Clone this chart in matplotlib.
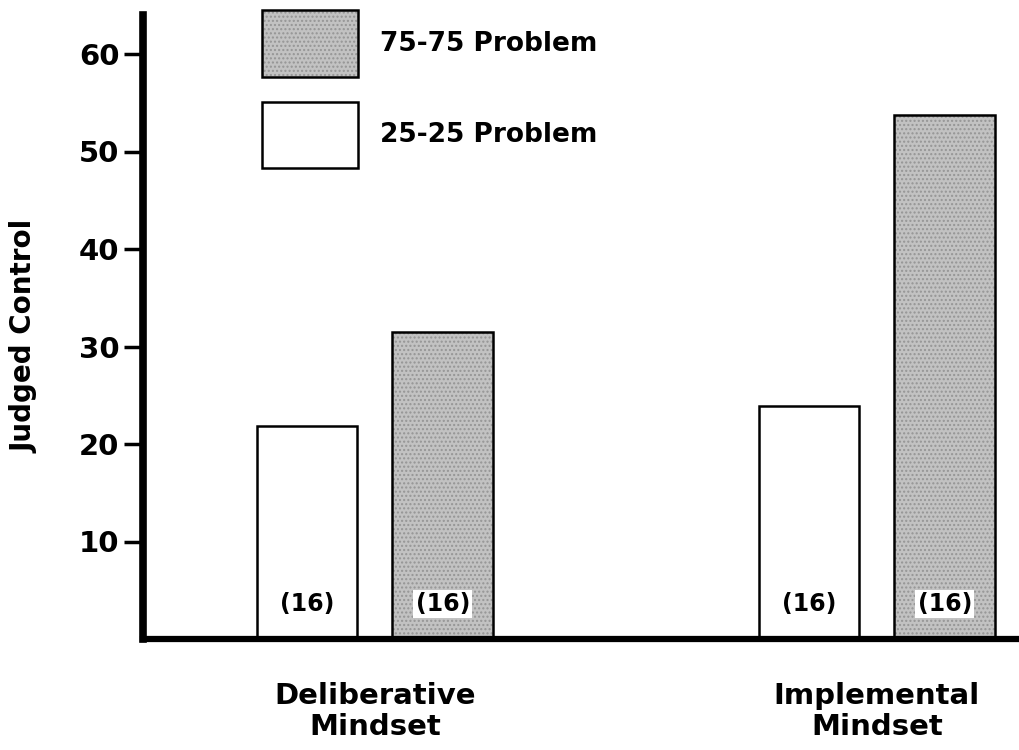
import matplotlib
matplotlib.use("Agg")
import matplotlib.pyplot as plt
from matplotlib.patches import Patch
from matplotlib.legend_handler import HandlerTuple
import numpy as np

# ---- data ----
categories = ["Deliberative\nMindset", "Implemental\nMindset"]
series_labels = ["75-75 Problem", "25-25 Problem"]
vals_25 = [21.8, 23.9]   # white bars
vals_75 = [31.5, 53.7]   # stippled bars
n_labels = ["(16)", "(16)"]
yticks = [10, 20, 30, 40, 50, 60]

plt.rcParams['font.family'] = ['DejaVu Sans']
plt.rcParams['font.weight'] = 'bold'

W, H = 1020, 750
fig = plt.figure(figsize=(W / 100, H / 100), dpi=100)
ax = fig.add_axes([143 / W, 1 - 639 / H, 1 - 143 / W, (639 - 15) / H])

x = np.arange(len(categories))
width = 0.2
off = 0.135
gray = '#c2c2c2'

# white bars
ax.bar(x - off, vals_25, width, facecolor='white', edgecolor='black', linewidth=1.8, zorder=2)
# stippled bars: fill + hatch layer, then outline
ax.bar(x + off, vals_75, width, facecolor=gray, edgecolor='#959595', hatch='....', linewidth=0, zorder=2)
ax.bar(x + off, vals_75, width, facecolor='none', edgecolor='black', linewidth=1.8, zorder=3)

for xi in x:
    ax.text(xi - off, 3.6, n_labels[xi], ha='center', va='center', fontsize=17, fontweight='bold', zorder=4)
    ax.text(xi + off, 3.6, n_labels[xi], ha='center', va='center', fontsize=17, fontweight='bold', zorder=4,
            bbox=dict(facecolor='white', edgecolor='none', pad=1.5))

ax.set_xlim(-0.462, 1.285)
ax.set_ylim(0, 624 / 9.75)

for s in ['top', 'right']:
    ax.spines[s].set_visible(False)
ax.spines['left'].set_linewidth(5.5)
ax.spines['bottom'].set_linewidth(4.5)

ax.set_yticks(yticks)
ax.set_yticklabels([str(t) for t in yticks])
ax.tick_params(axis='y', direction='out', length=14, width=2.5, pad=3, labelsize=21)
ax.set_xticks(x)
ax.set_xticklabels(categories, fontsize=21, fontweight='bold', linespacing=1.12)
ax.tick_params(axis='x', length=0, pad=31)

fig.text(25 / W, 1 - 336 / H, "Judged Control", rotation=90, ha='center', va='center',
         fontsize=20, fontweight='bold')

h75 = (Patch(facecolor=gray, edgecolor='#959595', hatch='....', linewidth=0),
       Patch(facecolor='none', edgecolor='black', linewidth=1.8))
h25 = Patch(facecolor='white', edgecolor='black', linewidth=1.8)
leg = ax.legend([h75, h25], series_labels, loc='upper left',
                bbox_to_anchor=(262 / W, 1 - 10 / H), bbox_transform=fig.transFigure,
                frameon=False, prop=dict(size=19, weight='bold'),
                handlelength=96 / 26.4, handleheight=3.5, labelspacing=0.95,
                handletextpad=0.85, borderpad=0, borderaxespad=0,
                handler_map={tuple: HandlerTuple(ndivide=1, pad=0)})

fig.savefig("out.png", dpi=100)
